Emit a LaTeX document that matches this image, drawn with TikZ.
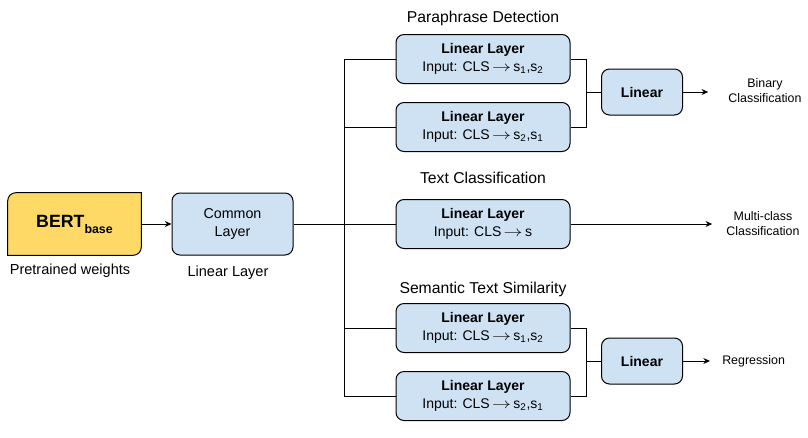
\documentclass[tikz,border=0pt]{standalone}
\usepackage{fontspec}
\setmainfont{Liberation Sans}
\usepackage{graphicx}
\usepackage{tikz}
\usetikzlibrary{arrows.meta,calc}

\definecolor{layerblue}{HTML}{CFE2F3}
\definecolor{bertyellow}{HTML}{FFD966}

\tikzset{
  layer/.style={draw,fill=layerblue,rounded corners=6pt,line width=0.75pt,
    minimum width=130.5pt,minimum height=36.75pt,align=center,inner sep=0pt,
    font=\fontsize{10.5}{13.5}\selectfont},
  headbox/.style={layer,minimum width=60.75pt,minimum height=34.5pt,font=\fontsize{10.5}{13.5}\selectfont\bfseries},
  task/.style={font=\fontsize{11.8}{14}\selectfont},
  caption/.style={font=\fontsize{10.9}{13}\selectfont},
  outlabel/.style={align=center,inner sep=0pt,font=\fontsize{9.3}{11.2}\selectfont},
  wire/.style={line width=0.75pt},
  arr/.style={wire,-{Stealth[length=5pt,width=4.5pt]}}
}

\newcommand{\toarrow}{\,\scalebox{1.3}[1]{$\rightarrow$}\,}
\newcommand{\headtext}[2]{\textbf{Linear Layer}\\Input: CLS\toarrow s\textsubscript{#1},s\textsubscript{#2}}

\begin{document}
\begin{tikzpicture}[x=0.75pt,y=-0.75pt]
\useasboundingbox (0,0) rectangle (808,437);

% BERT block, two corners rounded
\node[minimum width=99.75pt,minimum height=46.5pt,inner sep=0pt] (bert) at (74.5,224) {};
\draw[fill=bertyellow,line width=0.75pt]
  ([yshift=-6pt]bert.north west) arc[start angle=180,end angle=90,radius=6pt]
  -- (bert.north east) -- ([yshift=6pt]bert.south east)
  arc[start angle=0,end angle=-90,radius=6pt] -- (bert.south west) -- cycle;
\node at (bert) {\fontsize{13.3}{16}\selectfont\bfseries BERT\raisebox{-4.5pt}{\fontsize{9.3}{11}\selectfont base}};
\node[caption] (pretrained) at (70,271) {Pretrained weights};

% Common layer
\node[layer,minimum width=90.75pt,minimum height=46.5pt,font=\fontsize{10.7}{13.5}\selectfont] (common) at (232.5,224) {Common\\Layer};
\node[caption] (commonlbl) at (228,273) {Linear Layer};
\draw[arr] (bert.east) -- (common.west);

% Task heads
\node[task] (pdtitle) at (483,18) {Paraphrase Detection};
\node[layer] (pd1) at (483,59) {\headtext{1}{2}};
\node[layer] (pd2) at (483,127) {\headtext{2}{1}};

\node[task] (tctitle) at (483,178) {Text Classification};
\node[layer] (tc) at (483,224) {\textbf{Linear Layer}\\Input: CLS\toarrow s};

\node[task] (ststitle) at (483,289) {Semantic Text Similarity};
\node[layer] (sts1) at (483,328) {\headtext{1}{2}};
\node[layer] (sts2) at (483,396) {\headtext{2}{1}};

\node[headbox] (lin1) at (642,92) {Linear};
\node[headbox] (lin2) at (642,361) {Linear};

% Outputs
\node[outlabel] (binary) at (765,91) {Binary\\Classification};
\node[outlabel] (multi) at (763,224) {Multi-class\\Classification};
\node[outlabel,anchor=west] (regr) at (722,361) {Regression};

% Bus from the common layer
\coordinate (bus) at (344,0);
\coordinate (mergeA) at (586,0);
\draw[wire] (common.east) -- (tc.west);
\draw[wire] (pd1.west) -- (pd1.west -| bus) -- (sts2.west -| bus) -- (sts2.west);
\draw[wire] (pd2.west) -- (pd2.west -| bus);
\draw[wire] (sts1.west) -- (sts1.west -| bus);

% Merging pairs
\draw[wire] (pd1.east) -- (pd1.east -| mergeA) -- (pd2.east -| mergeA) -- (pd2.east);
\draw[wire] (lin1.west -| mergeA) -- (lin1.west);
\draw[wire] (sts1.east) -- (sts1.east -| mergeA) -- (sts2.east -| mergeA) -- (sts2.east);
\draw[wire] (lin2.west -| mergeA) -- (lin2.west);

\draw[arr] (lin1.east) -- ([xshift=-15pt]binary.west |- lin1.east);
\draw[arr] (tc.east) -- ([xshift=-10.5pt]multi.west |- tc.east);
\draw[arr] (lin2.east) -- ([xshift=-9pt]regr.west);
\end{tikzpicture}
\end{document}
